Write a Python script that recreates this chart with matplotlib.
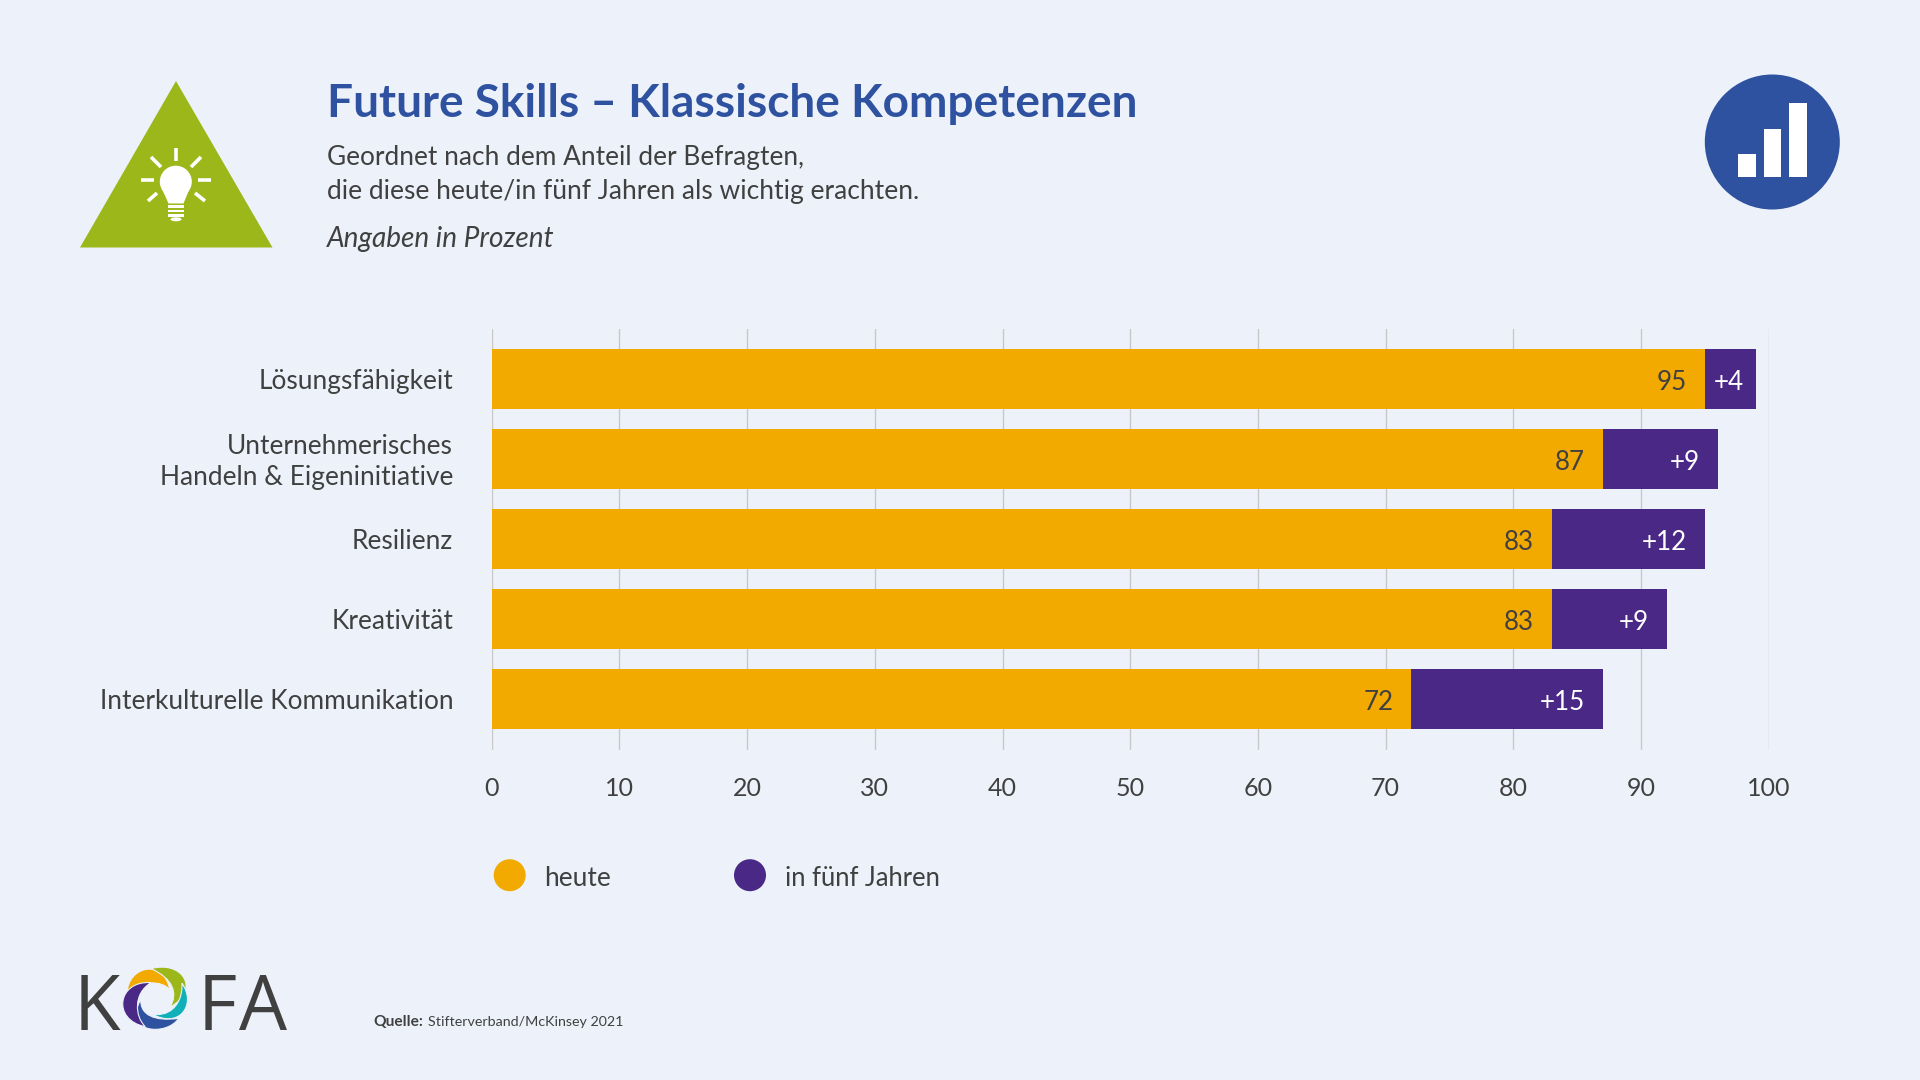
import numpy as np
import matplotlib
matplotlib.use("Agg")
import matplotlib.pyplot as plt
from matplotlib import font_manager as fm
from matplotlib.patches import Polygon, Circle, Rectangle, Ellipse, PathPatch
from matplotlib.path import Path
from matplotlib.transforms import ScaledTranslation

categories = ["Lösungsfähigkeit", "Unternehmerisches\nHandeln & Eigeninitiative", "Resilienz",
              "Kreativität", "Interkulturelle Kommunikation"]
heute = [95, 87, 83, 83, 72]
zuwachs = [4, 9, 12, 9, 15]
xticks = [0, 10, 20, 30, 40, 50, 60, 70, 80, 90, 100]
series_names = ["heute", "in fünf Jahren"]

BG = "#EDF2FA"; ORANGE = "#F2A900"; PURPLE = "#4A2885"; GREEN = "#9CB71A"
BLUE = "#2E51A0"; TEXT = "#404040"; GRID = "#C8C8C8"; TEAL = "#0FB0B8"
FONT = "Lato"
plt.rcParams["font.family"] = [FONT, "DejaVu Sans"]
installed = {f.name for f in fm.fontManager.ttflist}
LOGO_FONT = "Liberation Sans Narrow" if "Liberation Sans Narrow" in installed else "Open Sans"

W, H = 1920, 1080
fig = plt.figure(figsize=(W/100, H/100), dpi=100, facecolor=BG)
px = 100/72  # points -> pixel helper: size_pt = px_size/px

deco = fig.add_axes([0, 0, 1, 1], zorder=0)
deco.set_xlim(0, W); deco.set_ylim(H, 0); deco.axis("off")

def T(x, y, s, size, **kw):
    kw.setdefault("color", TEXT); kw.setdefault("va", "center")
    return deco.text(x, y, s, fontsize=size/px, **kw)

# Header
T(327, 104, "Future Skills – Klassische Kompetenzen", 46, color=BLUE, fontweight="bold")
T(327, 158, "Geordnet nach dem Anteil der Befragten,", 26.2)
T(327, 191, "die diese heute/in fünf Jahren als wichtig erachten.", 26.4)
T(326.5, 239.5, "Angaben in Prozent", 28, style="italic")

# Triangle with bulb icon
deco.add_patch(Polygon([(176, 81), (80, 247.5), (272.5, 247.5)], fc=GREEN, ec="none"))
deco.add_patch(Circle((175.8, 181.7), 16, fc="white", ec="none"))
deco.add_patch(Polygon([(162.5, 190), (189, 190), (183.5, 203.5), (168.5, 203.5)], fc="white", ec="none"))
for yy in [206.2, 210.8, 215.5]:
    deco.add_patch(Rectangle((168, yy-1.3), 16, 2.8, fc="white", ec="none"))
deco.add_patch(Ellipse((176, 219.3), 11, 4, fc="white", ec="none"))
rays = [((176, 148), (176, 161)), ((151, 157), (161, 167)), ((201, 157), (191, 167)),
        ((141, 180), (154, 180)), ((198, 180), (211, 180)),
        ((148, 201), (157, 193)), ((205, 201), (195, 193))]
for a, b in rays:
    deco.plot([a[0], b[0]], [a[1], b[1]], color="white", lw=2.6, solid_capstyle="butt")

# Blue circle icon
deco.add_patch(Circle((1772.3, 142), 67.5, fc=BLUE, ec="none"))
for x0, x1, top in [(1738.3, 1756.3, 154), (1763.5, 1781.3, 129), (1788.5, 1806.7, 103)]:
    deco.add_patch(Rectangle((x0, top), x1-x0, 177-top, fc="white", ec="none"))

# Chart
left, right, top, bottom = 491.7, 1768.7, 329, 750
ax = fig.add_axes([left/W, 1-bottom/H, (right-left)/W, (bottom-top)/H], zorder=1)
ax.patch.set_alpha(0)
ypos = np.arange(len(categories))
ax.barh(ypos, heute, height=0.75, color=ORANGE, zorder=2, label=series_names[0])
ax.barh(ypos, zuwachs, left=heute, height=0.75, color=PURPLE, zorder=2, label=series_names[1])
ax.set_xlim(0, 100)
ax.set_ylim(4.6375, -0.625)
ax.set_xticks(xticks)
ax.grid(axis="x", color=GRID, lw=1.0, zorder=0)
ax.set_axisbelow(True)
for s in ax.spines.values():
    s.set_visible(False)
ax.set_yticks(ypos)
ax.set_yticklabels(categories, fontsize=26.3/px, color=TEXT, linespacing=1.3)
ax.tick_params(axis="y", length=0, pad=38.5/px)
ax.tick_params(axis="x", length=0, pad=26.5/px, labelsize=25/px, labelcolor=TEXT)
for lab in ax.get_yticklabels():
    if "\n" in lab.get_text():
        lab.set_transform(lab.get_transform() + ScaledTranslation(0, 2.5/100, fig.dpi_scale_trans))
for i, (h, z) in enumerate(zip(heute, zuwachs)):
    ax.annotate(str(h), (h, i), xytext=(-18/px, -3/px), textcoords="offset points", ha="right",
                va="center", fontsize=26/px, color=TEXT, zorder=3)
    ax.annotate(f"+{z}", (h+z, i), xytext=(-12/px if z < 5 else -18/px, -3/px), textcoords="offset points",
                ha="right", va="center", fontsize=26/px, color="white", zorder=3)

# Legend
deco.add_patch(Circle((509.7, 875.2), 16, fc=ORANGE, ec="none"))
T(544, 878, series_names[0], 26.3)
deco.add_patch(Circle((750, 875.2), 16, fc=PURPLE, ec="none"))
T(785, 878, series_names[1], 25.6)

# KOFA logo
for x, s in [(74, "K"), (198, "F"), (239, "A")]:
    T(x, 972, s, 76, ha="left", va="top", family=LOGO_FONT)

# Swirl: five crescents, each two cubic curves, in crop coordinates
def z3(p):
    return (40 + p[0]/2.45, 930 + p[1]/3)

crescents = [
    (ORANGE, [(213, 192), (215, 105), (305, 85), (318, 180), (300, 150), (245, 150)]),
    (GREEN,  [(272, 116), (350, 90), (395, 180), (318, 232), (340, 190), (325, 145)]),
    (TEAL,   [(348, 160), (385, 225), (340, 300), (272, 250), (310, 265), (350, 230)]),
    (BLUE,   [(340, 265), (310, 320), (200, 310), (247, 208), (245, 255), (280, 275)]),
    (PURPLE, [(272, 158), (190, 150), (175, 270), (258, 290), (232, 260), (228, 190)]),
]
for col, pts in crescents:
    verts = [z3(p) for p in pts] + [z3(pts[0])]
    codes = [Path.MOVETO] + [Path.CURVE4]*6
    deco.add_patch(PathPatch(Path(verts, codes), fc=col, ec=BG, lw=0.8))

# Source
T(373, 1021.5, "Quelle:", 15.5, fontweight="bold")
T(428, 1021.5, "Stifterverband/McKinsey 2021", 14.2)

fig.savefig("out.png", dpi=100, facecolor=BG)
